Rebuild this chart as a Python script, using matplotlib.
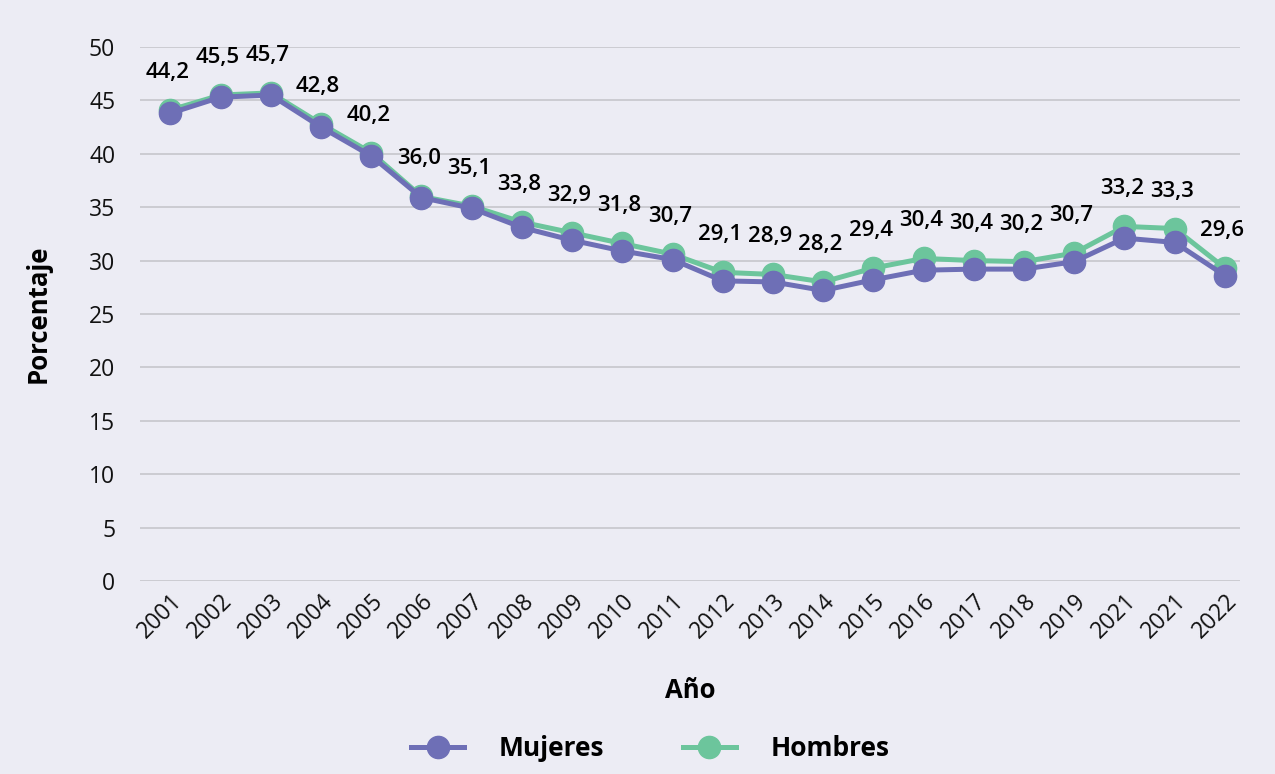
import numpy as np
import matplotlib.pyplot as plt

# datos
anios = ['2001', '2002', '2003', '2004', '2005', '2006', '2007', '2008', '2009', '2010', '2011',
         '2012', '2013', '2014', '2015', '2016', '2017', '2018', '2019', '2021', '2021', '2022']
mujeres = [43.8, 45.3, 45.5, 42.5, 39.8, 35.9, 34.9, 33.1, 31.9, 30.9, 30.1,
           28.1, 28.0, 27.2, 28.2, 29.1, 29.2, 29.2, 29.9, 32.1, 31.7, 28.6]
hombres = [44.1, 45.5, 45.7, 42.8, 40.1, 36.0, 35.1, 33.6, 32.6, 31.6, 30.6,
           28.9, 28.7, 28.0, 29.3, 30.2, 30.0, 29.9, 30.7, 33.2, 33.0, 29.3]
etiquetas = [44.2, 45.5, 45.7, 42.8, 40.2, 36.0, 35.1, 33.8, 32.9, 31.8, 30.7,
             29.1, 28.9, 28.2, 29.4, 30.4, 30.4, 30.2, 30.7, 33.2, 33.3, 29.6]

col_muj = '#6E6FB6'
col_hom = '#6CC59C'
fondo = '#ECECF4'

plt.rcParams['font.family'] = ['Open Sans', 'DejaVu Sans']

fig = plt.figure(figsize=(12.75, 7.74), dpi=100, facecolor=fondo)
ax = fig.add_axes([0.11, 0.2494, 0.8625, 0.6899])
ax.set_facecolor(fondo)

x = np.arange(len(anios))
ax.plot(x, hombres, '-o', color=col_hom, lw=3.6, ms=16, label='Hombres', zorder=3)
ax.plot(x, mujeres, '-o', color=col_muj, lw=3.6, ms=16, label='Mujeres', zorder=4)

# etiquetas de datos
for xi, v, e in zip(x, hombres, etiquetas):
    ax.annotate(f'{e:.1f}'.replace('.', ','), (xi, v), xytext=(-2, 27),
                textcoords='offset points', ha='center', va='center',
                fontsize=16, fontweight='semibold', color='#000000', zorder=5)

ax.set_ylim(0, 50)
ax.set_yticks(range(0, 51, 5))
ax.set_xlim(-0.6, 21.3)
ax.set_xticks(x)
ax.set_xticklabels(anios, rotation=45, ha='right', rotation_mode='anchor')
ax.tick_params(axis='both', length=0, labelsize=16.5, colors='#111111')
ax.tick_params(axis='x', pad=6)
ax.tick_params(axis='y', pad=18)
ax.grid(axis='y', color='#C6C6CC', lw=1.2)
ax.set_axisbelow(True)
for s in ax.spines.values():
    s.set_visible(False)

ax.set_xlabel('Año', fontsize=18.5, fontweight='bold', labelpad=24)
ax.set_ylabel('Porcentaje', fontsize=18.5, fontweight='bold', labelpad=27)

h, l = ax.get_legend_handles_labels()
fig.legend(h[::-1], l[::-1], loc='lower center', bbox_to_anchor=(0.51, -0.015), ncol=2,
           frameon=False, prop={'weight': 'bold', 'size': 19},
           handlelength=2.0, handletextpad=1.3, columnspacing=3.0)

fig.savefig('out.png', dpi=100, facecolor=fondo)
